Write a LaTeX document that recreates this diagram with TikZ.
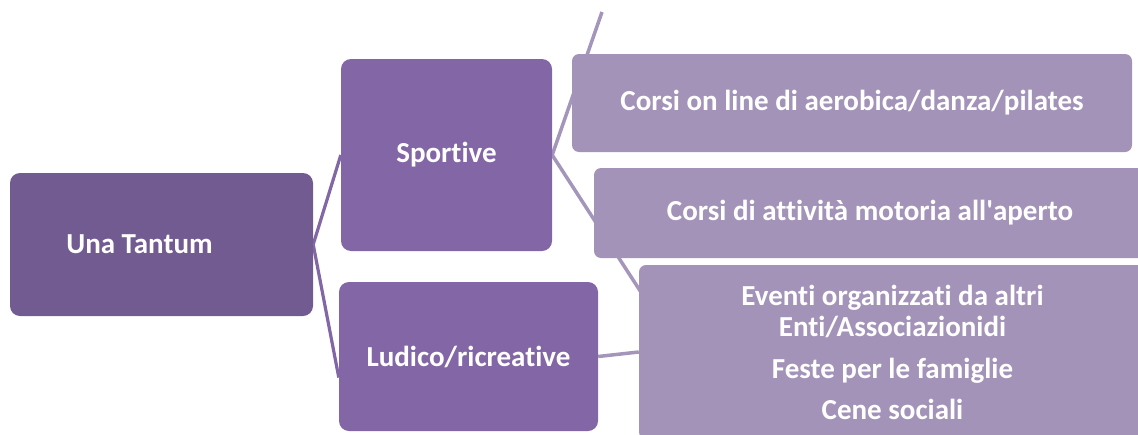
\documentclass[tikz,border=0pt]{standalone}
\usepackage{fontspec}
\setmainfont[Ligatures={NoCommon}]{Carlito}
\usepackage{xcolor}
\usepackage{tikz}
\usetikzlibrary{positioning,calc,backgrounds}
\definecolor{violascuro}{HTML}{725B91}
\definecolor{violamedio}{HTML}{8266A5}
\definecolor{violachiaro}{HTML}{A393B9}
\definecolor{violalinea}{HTML}{A496BB}

\begin{document}
\begin{tikzpicture}[
    x=1pt,y=-1pt,
    radice/.style  = {rectangle, rounded corners=10pt, fill=violascuro,
                      text=white, inner sep=0pt, align=center,
                      font=\fontsize{29}{35}\selectfont\bfseries},
    ramo/.style    = {radice, fill=violamedio},
    foglia/.style  = {radice, rounded corners=7pt, fill=violachiaro,
                      font=\fontsize{29}{31}\selectfont\bfseries},
    lienoscuro/.style = {violamedio, line width=3.2pt},
    lienchiaro/.style = {violalinea, line width=3.5pt},
  ]

  % ── Cornice ─────────────────────────────────────────────────────────────
  \useasboundingbox (0,0) rectangle (1138,434);
  \clip (0,0) rectangle (1138,434);

  % ── Riquadri ────────────────────────────────────────────────────────────
  \node[radice, minimum width=303pt, minimum height=143pt] (una)
       at (161.5,244.5) {\hspace*{-44pt}Una Tantum};

  \node[ramo, minimum width=211pt, minimum height=192pt] (spor)
       at (446.5,155) {Sportive};
  \node[ramo, minimum width=259pt, minimum height=149pt] (ludi)
       at (468.5,356.5) {Ludico/ricreative};

  \node[foglia, minimum width=560pt, minimum height=98pt] (onl)
       at (852,103) {Corsi on line di aerobica/danza/pilates};
  \node[foglia, minimum width=552pt, minimum height=90pt] (ape)
       at (870,213) {Corsi di attività motoria all\textquotesingle aperto};
  \node[foglia, minimum width=507pt, minimum height=174pt] (eve)
       at (892.5,352) {Eventi organizzati da altri\\Enti/Associazionidi\\[11pt]
                       Feste per le famiglie\\[10pt]Cene sociali};

  % ── Estremi nascosti ────────────────────────────────────────────────────
  \coordinate (alto)  at (602,12);
  \coordinate (basso) at (659,320);

  % ── Collegamenti ────────────────────────────────────────────────────────
  \begin{scope}[on background layer]
    \draw[lienoscuro] (una.east) -- (spor.west);
    \draw[lienoscuro] (una.east) -- ([yshift=-21pt]ludi.west);
    \draw[lienchiaro] (spor.east) -- (alto);
    \draw[lienchiaro] (spor.east) -- (basso);
    \draw[lienchiaro] (ludi.east) -- (eve.west);
  \end{scope}

\end{tikzpicture}
\end{document}
